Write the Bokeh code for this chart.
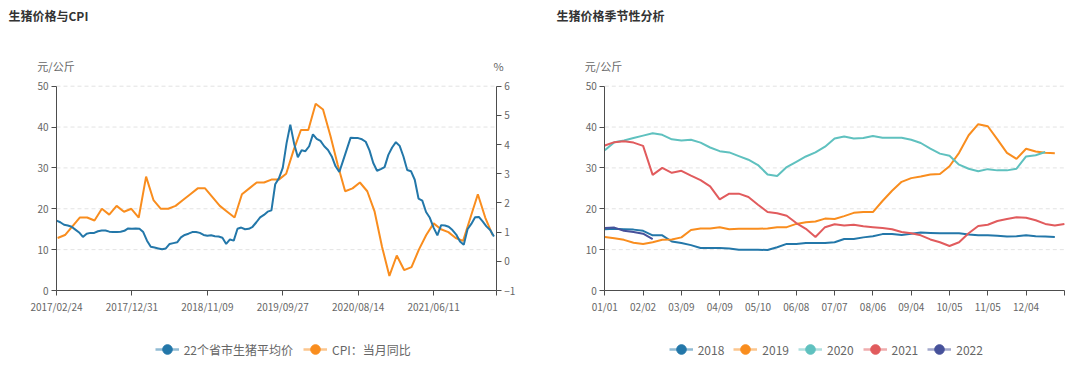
import numpy as np
from bokeh.plotting import figure
from bokeh.models import (Range1d, LinearAxis, FixedTicker, Legend, LegendItem,
                          Label, ColumnDataSource)
from bokeh.layouts import row
from bokeh.embed import file_html
from bokeh.resources import INLINE

FONT = "Noto Sans CJK SC"

# ---------------- left chart data ----------------
left_title = "生猪价格与CPI"
left_units = ["元/公斤", "%"]
pig_name = "22个省市生猪平均价"
cpi_name = "CPI：当月同比"
left_tick_labels = ["2017/02/24", "2017/12/31", "2018/11/09",
                    "2019/09/27", "2020/08/14", "2021/06/11"]
left_tick_step = 20          # categories between labelled ticks
left_n_categories = 116.6    # axis length in categories
price_ticks = [0, 10, 20, 30, 40, 50]
cpi_ticks = [-1, 0, 1, 2, 3, 4, 5, 6]

pig_price = [
    17.1, 16.7, 16.1, 15.9, 15.6, 14.9, 14.2, 13.1, 13.9, 14.1,
    14.1, 14.5, 14.7, 14.7, 14.4, 14.3, 14.3, 14.4, 14.6, 15.2,
    15.1, 15.2, 15.1, 14.3, 12.2, 10.7, 10.5, 10.3, 10.1, 10.3,
    11.4, 11.6, 11.8, 13.0, 13.6, 13.9, 14.3, 14.3, 14.1, 13.6,
    13.4, 13.5, 13.3, 13.2, 12.9, 11.4, 12.5, 12.2, 15.1, 15.4,
    15.0, 15.1, 15.6, 16.7, 17.9, 18.5, 19.3, 19.6, 26.0, 27.5,
    30.0, 36.0, 40.6, 36.0, 32.6, 34.3, 34.1, 35.3, 38.2, 37.1,
    36.6, 35.3, 34.4, 32.8, 30.4, 29.0, 31.8, 34.6, 37.4, 37.3,
    37.3, 37.0, 36.4, 34.3, 31.2, 29.3, 29.7, 30.2, 33.2, 35.0,
    36.3, 35.4, 32.8, 29.5, 29.2, 27.1, 22.5, 22.0, 19.2, 17.8,
    15.4, 13.5, 16.0, 15.9, 15.6, 14.8, 13.7, 12.0, 11.2, 15.0,
    16.3, 17.9, 18.0, 16.9, 15.7, 14.8, 13.2,
]

# monthly CPI YoY, 2017/02 .. 2022/01
cpi_yoy = [
    0.8, 0.9, 1.2, 1.5, 1.5, 1.4, 1.8, 1.6, 1.9, 1.7, 1.8,
    1.5, 2.9, 2.1, 1.8, 1.8, 1.9, 2.1, 2.3, 2.5, 2.5, 2.2, 1.9,
    1.7, 1.5, 2.3, 2.5, 2.7, 2.7, 2.8, 2.8, 3.0, 3.8, 4.5, 4.5,
    5.4, 5.2, 4.3, 3.3, 2.4, 2.5, 2.7, 2.4, 1.7, 0.5, -0.5, 0.2,
    -0.3, -0.2, 0.4, 0.9, 1.3, 1.1, 1.0, 0.8, 0.7, 1.5, 2.3, 1.5,
    0.9,
]
cpi_first_cat = 0.3       # category position of the first month
cpi_cats_per_month = 1.955

# ---------------- right chart data ----------------
right_title = "生猪价格季节性分析"
right_units = ["元/公斤"]
season_tick_labels = ["01/01", "02/02", "03/09", "04/09", "05/10", "06/08",
                      "07/07", "08/06", "09/04", "10/05", "11/05", "12/04"]
season_tick_step = 4
season_n_categories = 48

years = ["2018", "2019", "2020", "2021", "2022"]
s2018 = [15.0, 15.1, 15.0, 14.9, 14.6, 13.5, 13.5, 12.0, 11.6, 11.1,
         10.4, 10.4, 10.4, 10.3, 10.0, 10.0, 10.0, 9.9, 10.6, 11.4,
         11.4, 11.6, 11.6, 11.6, 11.8, 12.6, 12.6, 13.0, 13.3, 13.8,
         13.8, 13.6, 13.9, 14.2, 14.1, 14.0, 14.0, 14.0, 13.7, 13.5,
         13.5, 13.4, 13.2, 13.3, 13.5, 13.3, 13.2, 13.1]
s2019 = [13.1, 12.8, 12.4, 11.7, 11.4, 11.8, 12.4, 12.5, 13.0, 14.8,
         15.2, 15.2, 15.5, 15.0, 15.1, 15.1, 15.1, 15.2, 15.5, 15.5,
         16.3, 16.7, 16.9, 17.6, 17.5, 18.2, 19.0, 19.2, 19.2, 21.9,
         24.4, 26.6, 27.5, 27.9, 28.4, 28.5, 30.4, 33.7, 38.0, 40.7,
         40.2, 37.0, 33.7, 32.2, 34.7, 34.0, 33.7, 33.6]
s2020 = [34.3, 36.3, 36.7, 37.3, 37.9, 38.5, 38.1, 37.0, 36.7, 36.9,
         36.2, 35.0, 34.1, 33.8, 32.9, 32.0, 30.7, 28.4, 28.0, 30.2,
         31.5, 32.8, 33.8, 35.2, 37.2, 37.7, 37.2, 37.3, 37.8, 37.4,
         37.4, 37.4, 36.9, 36.1, 34.7, 33.5, 33.0, 30.8, 29.8, 29.2,
         29.7, 29.4, 29.4, 29.8, 32.8, 33.1, 33.9]
s2021 = [35.5, 36.3, 36.5, 36.2, 35.4, 28.3, 30.0, 28.8, 29.3, 28.1,
         27.0, 25.5, 22.3, 23.7, 23.7, 22.9, 21.0, 19.2, 18.9, 18.3,
         16.5, 15.1, 13.1, 15.5, 16.2, 15.9, 16.1, 15.7, 15.5, 15.3,
         15.0, 14.3, 14.0, 13.5, 12.5, 11.8, 10.9, 11.8, 14.0, 15.8,
         16.1, 17.0, 17.5, 17.9, 17.8, 17.2, 16.3, 15.9, 16.3]
s2022 = [15.3, 15.4, 14.6, 14.3, 13.9, 12.6]
season_series = [s2018, s2019, s2020, s2021, s2022]

C_BLUE = "#2377a9"
C_ORANGE = "#f98d1e"
C_CYAN = "#5fc1bf"
C_RED = "#e15b5d"
C_NAVY = "#46519a"
season_colors = [C_BLUE, C_ORANGE, C_CYAN, C_RED, C_NAVY]

AX = "#4d4d4d"
TXT = "#666666"

# ---------------- layout (canvas pixels) ----------------
FIG_H = 365
PLOT_TOP, PLOT_BOTTOM = 85.7, 290.0     # where max / min of the value axes sit
LEGEND_Y = 349                           # legend centre, from top


def x_range_for(fig_w, px_lo, px_hi, v_lo, v_hi):
    s = (v_hi - v_lo) / (px_hi - px_lo)
    start = v_lo - px_lo * s
    return Range1d(start, start + fig_w * s)


def y_range_for(v_lo, v_hi):
    s = (v_hi - v_lo) / (PLOT_BOTTOM - PLOT_TOP)
    return Range1d(v_lo - (FIG_H - PLOT_BOTTOM) * s, v_hi + PLOT_TOP * s)


def style_axis(ax):
    ax.axis_line_color = AX
    ax.axis_line_width = 1
    ax.major_tick_line_color = AX
    ax.major_tick_out = 5
    ax.major_tick_in = 0
    ax.minor_tick_line_color = None
    ax.major_label_text_font = FONT
    ax.major_label_text_font_size = "10px"
    ax.major_label_text_color = TXT
    ax.major_label_standoff = 3


def base_fig(fig_w, px_lo, px_hi, n_cat):
    p = figure(width=fig_w, height=FIG_H,
               x_range=x_range_for(fig_w, px_lo, px_hi, 0, n_cat),
               y_range=y_range_for(price_ticks[0], price_ticks[-1]),
               output_backend="svg", toolbar_location=None,
               min_border=0, min_border_left=0, min_border_right=0,
               min_border_top=0, min_border_bottom=0)
    p.outline_line_color = None
    p.xgrid.visible = False
    p.ygrid.visible = False
    # horizontal dashed grid lines across the plot area only
    g = price_ticks[1:]
    p.segment(x0=[0] * len(g), x1=[n_cat] * len(g), y0=g, y1=g,
              line_color="#e3e3e3", line_width=1, line_dash="4 3")
    p.xaxis.fixed_location = price_ticks[0]
    p.xaxis.bounds = (0, n_cat)
    p.yaxis.fixed_location = 0
    p.yaxis.bounds = (price_ticks[0], price_ticks[-1])
    p.yaxis.ticker = FixedTicker(ticks=price_ticks)
    for ax in p.xaxis + p.yaxis:
        style_axis(ax)
    return p


def text_label(p, text, x, y, size, align="center", bold=False, color=TXT):
    p.add_layout(Label(x=x, y=FIG_H - y, x_units="screen", y_units="screen",
                       text=text, text_font=FONT, text_font_size=size,
                       text_font_style="bold" if bold else "normal",
                       text_color=color, text_align=align,
                       text_baseline="middle"))


def legend_entry(p, label, color):
    src = ColumnDataSource(dict(x=[np.nan, np.nan], y=[np.nan, np.nan]))
    lr = p.line("x", "y", source=src, line_color=color, line_width=2.5,
                line_alpha=0.5)
    sr = p.scatter("x", "y", source=src, marker="circle", size=10,
                   fill_color=color, line_color=color)
    return LegendItem(label=label, renderers=[lr, sr])


def make_legend(items, px_left, spacing):
    lg = Legend(items=items, orientation="horizontal",
                location=(px_left, FIG_H - LEGEND_Y - 12),
                glyph_width=24, glyph_height=24, label_standoff=5,
                spacing=spacing, padding=0, margin=0,
                border_line_color=None, background_fill_alpha=0,
                label_text_font=FONT, label_text_font_size="12px",
                label_text_color=TXT)
    return lg


# ---------------- left figure ----------------
p1 = base_fig(540, 56.0, 495.7, left_n_categories)
pig_x = list(range(len(pig_price)))
cpi_x = [cpi_first_cat + cpi_cats_per_month * m for m in range(len(cpi_yoy))]

p1.extra_y_ranges = {"cpi": y_range_for(cpi_ticks[0], cpi_ticks[-1])}
rax = LinearAxis(y_range_name="cpi", ticker=FixedTicker(ticks=cpi_ticks),
                 fixed_location=left_n_categories,
                 bounds=(cpi_ticks[0], cpi_ticks[-1]))
style_axis(rax)
p1.add_layout(rax, "right")

left_ticks = [i * left_tick_step for i in range(len(left_tick_labels))] + [left_n_categories]
p1.xaxis.ticker = FixedTicker(ticks=left_ticks)
ov = {t: lab for t, lab in zip(left_ticks, left_tick_labels)}
ov[left_n_categories] = ""
p1.xaxis.major_label_overrides = ov

p1.line(cpi_x, cpi_yoy, y_range_name="cpi", line_color=C_ORANGE, line_width=2)
p1.line(pig_x, pig_price, line_color=C_BLUE, line_width=2)

text_label(p1, left_title, 8, 15, "12px", align="left", bold=True, color="#333333")
text_label(p1, left_units[0], 55.5, 65.5, "11px")
text_label(p1, left_units[1], 498, 65.5, "11px")

items1 = [legend_entry(p1, pig_name, C_BLUE), legend_entry(p1, cpi_name, C_ORANGE)]
p1.add_layout(make_legend(items1, 154.7, 10))

# ---------------- right figure ----------------
p2 = base_fig(538, 64.3, 523.9, season_n_categories)
season_ticks = [i * season_tick_step for i in range(len(season_tick_labels))] + [season_n_categories]
p2.xaxis.ticker = FixedTicker(ticks=season_ticks)
ov2 = {t: lab for t, lab in zip(season_ticks, season_tick_labels)}
ov2[season_n_categories] = ""
p2.xaxis.major_label_overrides = ov2

for vals, col in zip(season_series, season_colors):
    p2.line(list(range(len(vals))), vals, line_color=col, line_width=2)

text_label(p2, right_title, 16, 15, "12px", align="left", bold=True, color="#333333")
text_label(p2, right_units[0], 63, 65.5, "11px")

items2 = [legend_entry(p2, y, c) for y, c in zip(years, season_colors)]
p2.add_layout(make_legend(items2, 128.7, 9))

layout = row(p1, p2)
open("out.html", "w").write(file_html(layout, INLINE))
